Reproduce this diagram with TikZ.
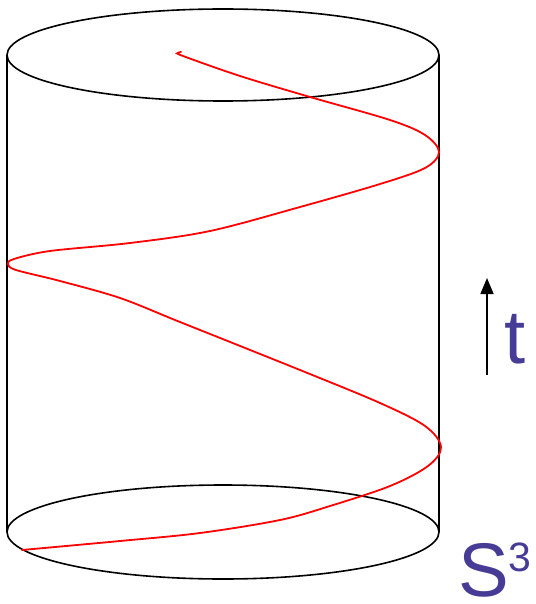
\documentclass[tikz,border=0pt]{standalone}
\usepackage{fontspec}
\setmainfont{Liberation Sans}
\usetikzlibrary{arrows.meta}
\definecolor{lblue}{RGB}{70,60,150}
\begin{document}
\begin{tikzpicture}[x=1pt,y=-1pt,
  edge/.style={line width=1.6pt,black},
  helix/.style={line width=1.8pt,red,line cap=round},
  lbl/.style={text=lblue,inner sep=0pt,text depth=0pt,font=\fontsize{76}{76}\selectfont}]
\useasboundingbox (0,0) rectangle (535,604);
% cylinder
\draw[edge] (223,55) ellipse [x radius=216, y radius=46];
\draw[edge] (223,532) ellipse [x radius=216, y radius=47];
\coordinate (tl) at (7,55);
\coordinate (bl) at (7,532);
\coordinate (tr) at (439,55);
\coordinate (br) at (439,532);
\draw[edge] (tl) -- (bl);
\draw[edge] (tr) -- (br);
% helix
\draw[helix] plot[smooth,tension=0.55] coordinates {
 (181,52) (178,53) (183,56) (240,76) (310,97) (390,120) (425,135) (439,152)
 (425,168) (380,184) (300,207) (210,231) (130,243) (50,251) (14,259) (8,264) (16,270)
 (60,281) (120,298) (180,322) (300,370) (380,403) (425,426) (441,447)
 (428,466) (390,486) (330,506) (280,520) (200,533) (120,541) (22,550)};
% time arrow
\coordinate (ta) at (487,375);
\coordinate (tb) at (487,278);
\draw[line width=1.6pt,-{Triangle[length=16pt,width=13pt]}] (ta) -- (tb);
\node[lbl,anchor=base west] (t) at (504,363) {t};
\node[lbl,anchor=base west] (s) at (458,596) {S\raisebox{0.32em}{\fontsize{41}{41}\selectfont 3}};
\end{tikzpicture}
\end{document}
